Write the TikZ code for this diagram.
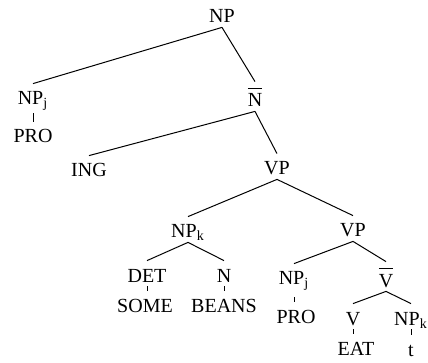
\documentclass[tikz,border=0pt]{standalone}
\usepackage{fontspec}
\setmainfont{Liberation Serif}
\usepackage{tikz}
\newcommand{\barred}[1]{\sbox0{#1}\rlap{\rule[\dimexpr\ht0+2.5pt\relax]{\wd0}{0.4pt}}\usebox0}

\begin{document}
\begin{tikzpicture}[x=0.5pt,y=-0.5pt,
    cat/.style={anchor=base, inner xsep=0pt, inner ysep=2pt,
    text height=8.5pt, text depth=0pt},
    barcat/.style={cat, text height=10.5pt},
    branch/.style={line width=0.5pt}]
    \tikzstyle{every node}=[cat]
    \useasboundingbox (0,0) rectangle (428,363);
    % upper part
    \node (a) at (222,23) {NP};
    \node (b) at (33,105) {NP\textsubscript{j}};
    \node (c) at (33,143) {PRO};
    \node[barcat] (d) at (255,107) {\barred{N}};
    \node (e) at (89,177) {ING};
    \node (f) at (277,175) {VP};
    % object NP
    \node (g) at (188,238) {NP\textsubscript{k}};
    \node (i) at (147,282) {DET};
    \node (j) at (224,282) {N};
    \node (k) at (145,312) {SOME};
    \node (l) at (224,312) {BEANS};
    % lower VP
    \node (h) at (353,237) {VP};
    \node (m) at (294,285) {NP\textsubscript{j}};
    \node (o) at (296,323) {PRO};
    \node[barcat] (n) at (386,287) {\barred{V}};
    \node (p) at (353,325) {V};
    \node (q) at (411,325) {NP\textsubscript{k}};
    \node (r) at (356,355) {EAT};
    \node (s) at (411,356) {t};
    % branches
    \draw[branch] (a.south) -- (b.north);
    \draw[branch] (a.south) -- (d.north);
    \draw[branch] (d.south) -- (e.north);
    \draw[branch] (d.south) -- (f.north);
    \draw[branch] (f.south) -- (g.north);
    \draw[branch] (f.south) -- (h.north);
    \draw[branch] (g.south) -- (i.north);
    \draw[branch] (g.south) -- (j.north);
    \draw[branch] (h.south) -- (m.north);
    \draw[branch] (h.south) -- (n.north);
    \draw[branch] (n.south) -- (p.north);
    \draw[branch] (n.south) -- (q.north);
    % ticks to the words
    \draw[branch,shorten <=2pt] (b.south) -- (b.south |- c.north);
    \draw[branch] (i.south) -- (i.south |- k.north);
    \draw[branch] (j.south) -- (j.south |- l.north);
    \draw[branch,shorten <=4pt] (m.south) -- (m.south |- o.north);
    \draw[branch] (p.south) -- (p.south |- r.north);
    \draw[branch] (q.south) -- (q.south |- s.north);
\end{tikzpicture}
\end{document}
